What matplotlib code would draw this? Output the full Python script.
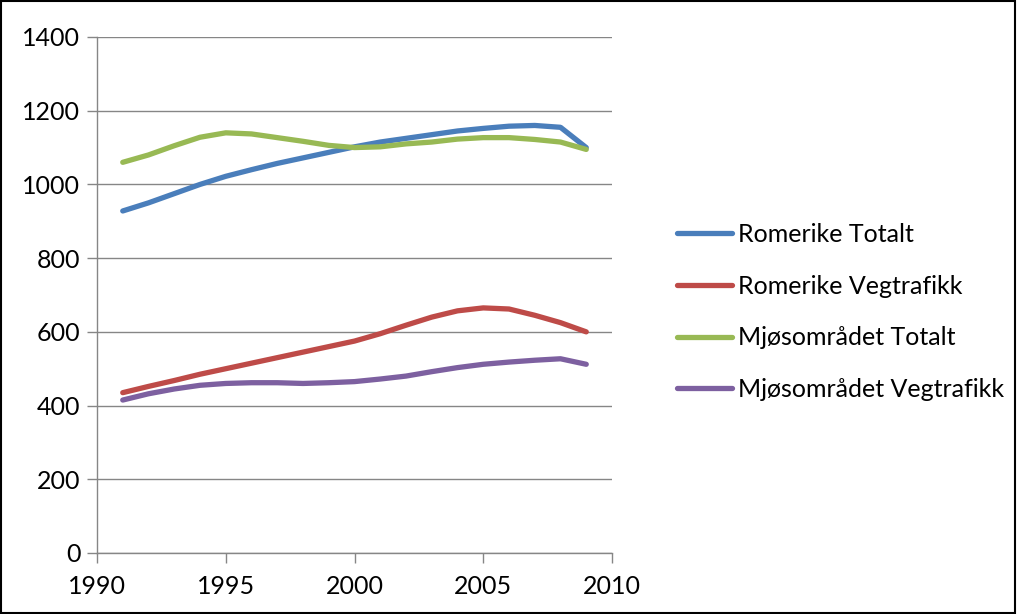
import matplotlib.pyplot as plt
from matplotlib.patches import Rectangle

years = list(range(1991, 2010))
romerike_totalt = [928, 950, 975, 1000, 1022, 1040, 1057, 1072, 1087, 1102,
                   1115, 1125, 1135, 1145, 1152, 1158, 1160, 1155, 1100]
romerike_veg = [435, 452, 468, 485, 500, 515, 530, 545, 560, 575,
                595, 618, 640, 657, 665, 662, 645, 625, 600]
mjos_totalt = [1060, 1080, 1105, 1128, 1140, 1137, 1127, 1117, 1106, 1100,
               1102, 1110, 1115, 1123, 1127, 1127, 1122, 1115, 1095]
mjos_veg = [415, 432, 445, 455, 460, 462, 462, 460, 462, 465,
            472, 480, 492, 503, 512, 518, 523, 527, 512]

series = [
    ("Romerike Totalt", romerike_totalt, "#4A7EBB"),
    ("Romerike Vegtrafikk", romerike_veg, "#BE4B48"),
    ("Mjøsområdet Totalt", mjos_totalt, "#98B954"),
    ("Mjøsområdet Vegtrafikk", mjos_veg, "#7D60A0"),
]

plt.rcParams["font.family"] = ["Lato", "DejaVu Sans"]

fig = plt.figure(figsize=(10.17, 6.14), dpi=100)
ax = fig.add_axes([97 / 1017, 61 / 614, 515 / 1017, 516 / 614])

for label, vals, color in series:
    ax.plot(years, vals, color=color, lw=3.8, solid_capstyle="round", label=label)

grid_color = "#868686"
ax.set_xlim(1990, 2010)
ax.set_ylim(0, 1400)
ax.set_xticks(range(1990, 2011, 5))
ax.set_yticks(range(0, 1401, 200))
ax.yaxis.grid(True, color=grid_color, lw=1.0)
ax.set_axisbelow(True)
for side in ["top", "right"]:
    ax.spines[side].set_visible(False)
for side in ["left", "bottom"]:
    ax.spines[side].set_color(grid_color)
    ax.spines[side].set_linewidth(1.0)
ax.tick_params(axis="both", colors=grid_color, labelcolor="black", labelsize=18,
               length=7, width=1.0, direction="out")
ax.tick_params(axis="x", pad=9)
ax.tick_params(axis="y", pad=5)

ax.legend(loc="center left", bbox_to_anchor=(677 / 1017, 1 - 312 / 614), bbox_transform=fig.transFigure,
          frameon=False, fontsize=18, handlelength=2.2, handletextpad=0.25, labelspacing=1.15,
          borderaxespad=0, borderpad=0)

fig.patches.append(Rectangle((0.001, 0.002), 0.997, 0.996, transform=fig.transFigure,
                             fill=False, edgecolor="black", lw=1.5))

fig.savefig("out.png", dpi=100)
